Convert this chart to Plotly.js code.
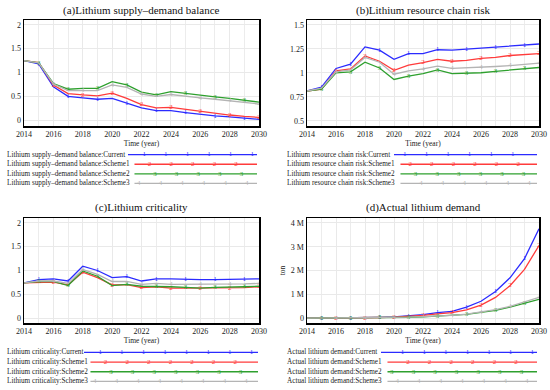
<!DOCTYPE html>
<html><head><meta charset="utf-8">
<script src="https://cdn.plot.ly/plotly-3.0.1.min.js"></script>
<style>body{margin:0;background:#fff}#chart{width:550px;height:390px}</style>
</head><body><div id="chart"></div>
<script>
// ---------- data ----------
const years = [2014,2015,2016,2017,2018,2019,2020,2021,2022,2023,2024,2025,2026,2027,2028,2029,2030];
const yearTicks = [2014,2016,2018,2020,2022,2024,2026,2028,2030];
const schemes = ['Current','Scheme1','Scheme2','Scheme3'];
const schemeDigits = ['1','2','3','4'];
const panelTitles = ['(a)Lithium supply\u2013demand balance','(b)Lithium resource chain risk','(c)Lithium criticality','(d)Actual lithium demand'];
const legendPrefixes = ['Lithium supply\u2013demand balance','Lithium resource chain risk','Lithium criticality','Actual lithium demand'];
const xTitle = 'Time (year)';
const demandUnit = 'ton';

const balanceCurrent = [1.25,1.18,0.70,0.50,0.47,0.44,0.46,0.36,0.26,0.20,0.20,0.16,0.12,0.09,0.07,0.04,0.02];
const balanceScheme1 = [1.25,1.21,0.74,0.56,0.53,0.51,0.57,0.46,0.33,0.26,0.27,0.23,0.18,0.14,0.11,0.08,0.06];
const balanceScheme2 = [1.25,1.20,0.77,0.65,0.67,0.67,0.81,0.74,0.59,0.53,0.60,0.56,0.52,0.49,0.46,0.42,0.38];
const balanceScheme3 = [1.25,1.20,0.76,0.62,0.62,0.62,0.74,0.69,0.55,0.50,0.54,0.50,0.47,0.44,0.41,0.37,0.34];

const riskCurrent = [0.81,0.85,1.045,1.09,1.27,1.235,1.14,1.20,1.20,1.24,1.235,1.245,1.26,1.27,1.28,1.29,1.30];
const riskScheme1 = [0.81,0.83,1.02,1.04,1.175,1.12,1.025,1.08,1.105,1.14,1.12,1.13,1.15,1.16,1.18,1.19,1.20];
const riskScheme2 = [0.81,0.83,1.00,1.01,1.11,1.05,0.93,0.965,0.99,1.03,0.99,0.995,1.00,1.015,1.03,1.045,1.055];
const riskScheme3 = [0.81,0.84,1.01,1.03,1.16,1.11,0.985,1.02,1.04,1.07,1.045,1.05,1.055,1.065,1.075,1.09,1.10];

const critCurrent = [0.74,0.81,0.825,0.78,1.09,1.00,0.85,0.87,0.78,0.825,0.825,0.81,0.81,0.81,0.81,0.825,0.825];
const critScheme1 = [0.74,0.755,0.755,0.70,0.965,0.85,0.70,0.705,0.64,0.66,0.63,0.63,0.63,0.63,0.635,0.64,0.66];
const critScheme2 = [0.74,0.77,0.77,0.685,0.99,0.88,0.685,0.71,0.67,0.67,0.66,0.645,0.63,0.645,0.645,0.66,0.67];
const critScheme3 = [0.74,0.78,0.78,0.73,1.02,0.92,0.77,0.77,0.71,0.73,0.71,0.71,0.71,0.71,0.71,0.72,0.73];

const demandCurrent = [10000,12000,15000,20000,30000,45000,65000,100000,160000,240000,300000,470000,720000,1130000,1700000,2500000,3750000];
const demandScheme1 = [10000,12000,15000,19000,27000,40000,55000,85000,130000,190000,240000,360000,560000,880000,1370000,2050000,3050000];
const demandScheme2 = [10000,12000,14000,17000,22000,30000,38000,50000,70000,95000,120000,170000,250000,340000,470000,630000,800000];
const demandScheme3 = [10000,12000,14000,17000,22000,31000,40000,53000,75000,100000,130000,185000,270000,370000,510000,690000,880000];

const balanceTicks = [0,0.5,1,1.5,2];
const balanceTickText = ['0','0.5','1','1.5','2'];
const riskTicks = [0.5,0.75,1,1.25,1.5];
const riskTickText = ['0.5','0.75','1','1.25','1.5'];
const critTicks = [0,0.5,1,1.5,2];
const critTickText = ['0','0.5','1','1.5','2'];
const demandTicks = [0,1000000,2000000,3000000,4000000];
const demandTickText = ['0','1 M','2 M','3 M','4 M'];

// ---------- style ----------
const colors = ['#2b2bff','#ff3b3b','#2ea02e','#b4b4b4'];
const FONT = 'Liberation Serif';
const W = 550, H = 390;

const panels = [
  {series:[balanceCurrent,balanceScheme1,balanceScheme2,balanceScheme3], ticks:balanceTicks, tickText:balanceTickText, range:[-0.12,2.1],
   px:[24,259], py:[20,126], titleY:10, legText:5, legLine:[128,257], legY:[149.9,188.1], phase:3},
  {series:[riskCurrent,riskScheme1,riskScheme2,riskScheme3], ticks:riskTicks, tickText:riskTickText, range:[0.445,1.55],
   px:[307,539], py:[20,126], titleY:10, legText:285, legLine:[394,537], legY:[149.9,188.1], phase:2},
  {series:[critCurrent,critScheme1,critScheme2,critScheme3], ticks:critTicks, tickText:critTickText, range:[-0.1,2.1],
   px:[24,259], py:[218,323], titleY:207, legText:5, legLine:[84,258], legY:[347.5,386.3], phase:3},
  {series:[demandCurrent,demandScheme1,demandScheme2,demandScheme3], ticks:demandTicks, tickText:demandTickText, range:[-190000,4200000],
   px:[307,539], py:[218,323], titleY:207, legText:285, legLine:[381,537], legY:[347.5,386.3], phase:0, ytitle:demandUnit}
];

const traces = [];
const layout = {
  width:W, height:H, margin:{l:0,r:0,t:0,b:0}, showlegend:false,
  paper_bgcolor:'#fff', plot_bgcolor:'#fff',
  font:{family:FONT, size:8, color:'#222'},
  annotations:[]
};

panels.forEach((p, k) => {
  const n = k+1;
  const xa = 'x'+(n===1?'':n), ya = 'y'+(n===1?'':n);
  const xk = 'xaxis'+(n===1?'':n), yk = 'yaxis'+(n===1?'':n);
  p.series.forEach((vals, s) => {
    traces.push({
      x: years, y: vals, xaxis: xa, yaxis: ya, type:'scatter', mode:'lines+text',
      name: legendPrefixes[k]+':'+schemes[s],
      line:{color:colors[s], width:1.3},
      text: years.map((yr,i)=> (i>0 && (i + s) % 2 === 1) ? schemeDigits[s] : ''),
      textposition:'middle center', textfont:{family:FONT, size:7, color:colors[s]},
      cliponaxis:false, hoverinfo:'x+y+name'
    });
  });
  layout[xk] = {
    domain:[p.px[0]/W, p.px[1]/W], range:[2014,2030], anchor: ya,
    tickvals: yearTicks, ticktext: yearTicks.map(String), ticks:'',
    showgrid:true, gridcolor:'#e9e9e9', gridwidth:1,
    minor:{tickvals: years, showgrid:true, gridcolor:'#ececec', gridwidth:1, ticks:''},
    showline:true, linecolor:'#000', linewidth:1.5, mirror:true, zeroline:false,
    tickfont:{family:FONT, size:8, color:'#222'},
    title:{text:xTitle, font:{family:FONT, size:7.5, color:'#222'}, standoff:1}
  };
  layout[yk] = {
    domain:[1-p.py[1]/H, 1-p.py[0]/H], range:p.range, anchor: xa,
    tickvals: p.ticks, ticktext: p.tickText, ticks:'',
    showgrid:true, gridcolor:'#e9e9e9', gridwidth:1,
    showline:true, linecolor:'#000', linewidth:1.5, mirror:true, zeroline:false,
    tickfont:{family:FONT, size:8, color:'#222'}
  };
  if (p.ytitle) layout[yk].title = {text:p.ytitle, font:{family:FONT, size:7.5, color:'#222'}, standoff:4};
  layout.annotations.push({
    text: panelTitles[k], xref:'paper', yref:'paper', x:(p.px[0]+p.px[1])/2/W, y:1-p.titleY/H,
    xanchor:'center', yanchor:'middle', showarrow:false, font:{family:FONT, size:11, color:'#111'}
  });
  // legend keys (text on the left, line with digit markers on the right)
  const ln = 4+n;
  const lxa = 'x'+ln, lya = 'y'+ln;
  const K = (p.legLine[1]-p.legLine[0])/5.4;
  layout['xaxis'+ln] = {domain:[p.legLine[0]/W, p.legLine[1]/W], range:[0,K], visible:false, anchor:lya, fixedrange:true};
  layout['yaxis'+ln] = {domain:[1-p.legY[1]/H, 1-p.legY[0]/H], range:[3.5,-0.5], visible:false, anchor:lxa, fixedrange:true};
  schemes.forEach((sch, s) => {
    const ph = (p.phase + s) % 4;
    const start = s === 0 ? 0 : 1.2;
    const keyX = [start];
    for (let i=Math.ceil(start);i<=Math.floor(K);i++) if (i>start) keyX.push(i);
    if (keyX[keyX.length-1] < K) keyX.push(K);
    traces.push({
      x:keyX, y:keyX.map(()=>s), xaxis:lxa, yaxis:lya, type:'scatter', mode:'lines+text',
      line:{color:colors[s], width:1.3}, showlegend:false, hoverinfo:'skip',
      text:keyX.map(v => (Number.isInteger(v) && v>start+0.5 && v<K-0.5 && (v-ph)%4===0) ? schemeDigits[s] : ''),
      textposition:'middle center', textfont:{family:FONT, size:7, color:colors[s]}, cliponaxis:false
    });
    layout.annotations.push({
      text: legendPrefixes[k]+':'+sch, xref:'paper', yref:lya, x:p.legText/W, y:s,
      xanchor:'left', yanchor:'middle', showarrow:false, font:{family:FONT, size:7.2, color:'#222'}
    });
  });
});

Plotly.newPlot('chart', traces, layout, {staticPlot:true, displayModeBar:false});
</script>
</body></html>
